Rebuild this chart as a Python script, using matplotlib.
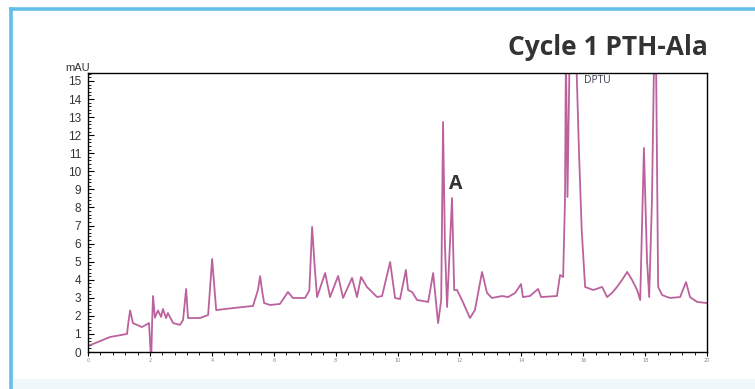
import numpy as np
import matplotlib
matplotlib.use('Agg')
import matplotlib.pyplot as plt
from matplotlib.lines import Line2D
from matplotlib.patches import Rectangle
from matplotlib.ticker import MultipleLocator

# Retention time (min) and absorbance (mAU) of the cycle 1 trace
time_min = [
    0.00, 0.71, 1.26, 1.30, 1.36, 1.45, 1.74, 1.97, 2.04, 2.07, 2.10, 2.16,
    2.26, 2.36, 2.42, 2.52, 2.58, 2.75, 2.97, 3.07, 3.17, 3.23, 3.62, 3.88,
    4.01, 4.14, 4.68, 5.33, 5.49, 5.56, 5.62, 5.69, 5.88, 6.20, 6.46, 6.62,
    7.01, 7.15, 7.24, 7.33, 7.40, 7.66, 7.82, 8.08, 8.24, 8.53, 8.69, 8.82,
    9.01, 9.34, 9.50, 9.76, 9.92, 10.08, 10.27, 10.34, 10.47, 10.63, 10.99,
    11.15, 11.31, 11.41, 11.47, 11.53, 11.60, 11.76, 11.83, 11.92, 12.08,
    12.34, 12.50, 12.73, 12.89, 13.05, 13.38, 13.57, 13.80, 13.99, 14.05,
    14.28, 14.54, 14.64, 15.15, 15.25, 15.35, 15.41, 15.44, 15.49, 15.56,
    15.77, 15.86, 15.95, 16.06, 16.32, 16.61, 16.77, 16.93, 17.09, 17.25,
    17.42, 17.58, 17.74, 17.84, 17.96, 18.06, 18.13, 18.22, 18.29, 18.35,
    18.42, 18.55, 18.80, 19.13, 19.32, 19.45, 19.68, 20.00,
]
absorbance = [
    0.33, 0.83, 1.00, 1.60, 2.30, 1.60, 1.38, 1.60, -0.50, 1.60, 3.10, 1.90,
    2.30, 1.94, 2.38, 1.88, 2.16, 1.60, 1.50, 1.77, 3.49, 1.88, 1.88, 2.05,
    5.15, 2.32, 2.43, 2.55, 3.43, 4.20, 3.43, 2.71, 2.60, 2.66, 3.32, 2.99,
    2.99, 3.40, 6.92, 4.54, 3.04, 4.37, 3.04, 4.21, 2.99, 4.10, 3.04, 4.15,
    3.60, 3.04, 3.10, 4.98, 2.99, 2.93, 4.54, 3.43, 3.32, 2.88, 2.77,
    4.37, 1.60, 2.88, 12.73, 6.00, 2.49, 8.52, 3.43, 3.43, 2.88,
    1.88, 2.32, 4.43, 3.27, 2.99, 3.10, 3.04, 3.27, 3.76, 3.04,
    3.10, 3.49, 3.04, 3.10, 4.26, 4.15, 8.41, 16.50, 8.58, 16.50,
    16.50, 11.20, 6.75, 3.60, 3.43, 3.60, 3.04, 3.27, 3.60, 3.98,
    4.43, 3.98, 3.43, 2.88, 11.29, 5.09, 3.04, 8.40, 16.50, 16.50,
    3.60, 3.15, 2.99, 3.04, 3.87, 3.04, 2.77, 2.71,
]

y_ticks = list(range(0, 16))
x_ticks = list(range(0, 21, 2))

fig = plt.figure(figsize=(7.55, 3.89), dpi=100)
fig.patch.set_facecolor('white')

# blue frame around the panel
frame_col = '#62bfe9'
fig.add_artist(Line2D([0.0152, 0.0152], [0.0, 0.977], color=frame_col,
                      lw=2.6, transform=fig.transFigure))
fig.add_artist(Line2D([0.0152, 1.0], [0.977, 0.977], color=frame_col,
                      lw=2.6, transform=fig.transFigure))
fig.add_artist(Rectangle((0.019, 0.0), 0.981, 0.025, color='#eef8fb',
                         transform=fig.transFigure, zorder=0))

ax = fig.add_axes([0.1166, 0.0951, 0.8199, 0.7172])
ax.plot(time_min, absorbance, color='#b0468c', lw=1.3, alpha=0.85,
        solid_joinstyle='round')

ax.set_xlim(0, 20)
ax.set_ylim(0, 15.44)

ax.set_yticks(y_ticks)
ax.yaxis.set_minor_locator(MultipleLocator(0.2))
ax.set_xticks(x_ticks)
ax.xaxis.set_minor_locator(MultipleLocator(0.4))
ax.tick_params(axis='y', which='major', direction='in', length=4, width=0.8,
               labelsize=8.5, labelcolor='#333333', pad=5)
ax.tick_params(axis='y', which='minor', direction='in', length=2, width=0.6)
ax.tick_params(axis='x', which='major', direction='out', length=3, width=0.8,
               labelsize=3.5, labelcolor='#888888', pad=1)
ax.tick_params(axis='x', which='minor', direction='out', length=2, width=0.6)
for lbl in ax.get_yticklabels():
    lbl.set_family('Liberation Sans')
for sp in ax.spines.values():
    sp.set_linewidth(1.0)
    sp.set_color('black')

ax.text(11.89, 9.3, 'A', ha='center', va='center', fontsize=14,
        fontweight='bold', color='#333333', family='Open Sans')
ax.text(16.03, 15.05, 'DPTU', ha='left', va='center', fontsize=7.5,
        color='#3a4150', family='Open Sans')

fig.text(0.086, 0.825, 'mAU', ha='left', va='center', fontsize=8,
         color='#333333', family='Liberation Sans')
fig.text(0.938, 0.879, 'Cycle 1 PTH-Ala', ha='right', va='center',
         fontsize=19, fontweight='bold', color='#333333', family='Open Sans')

fig.savefig('out.png', dpi=100)
plt.close(fig)
